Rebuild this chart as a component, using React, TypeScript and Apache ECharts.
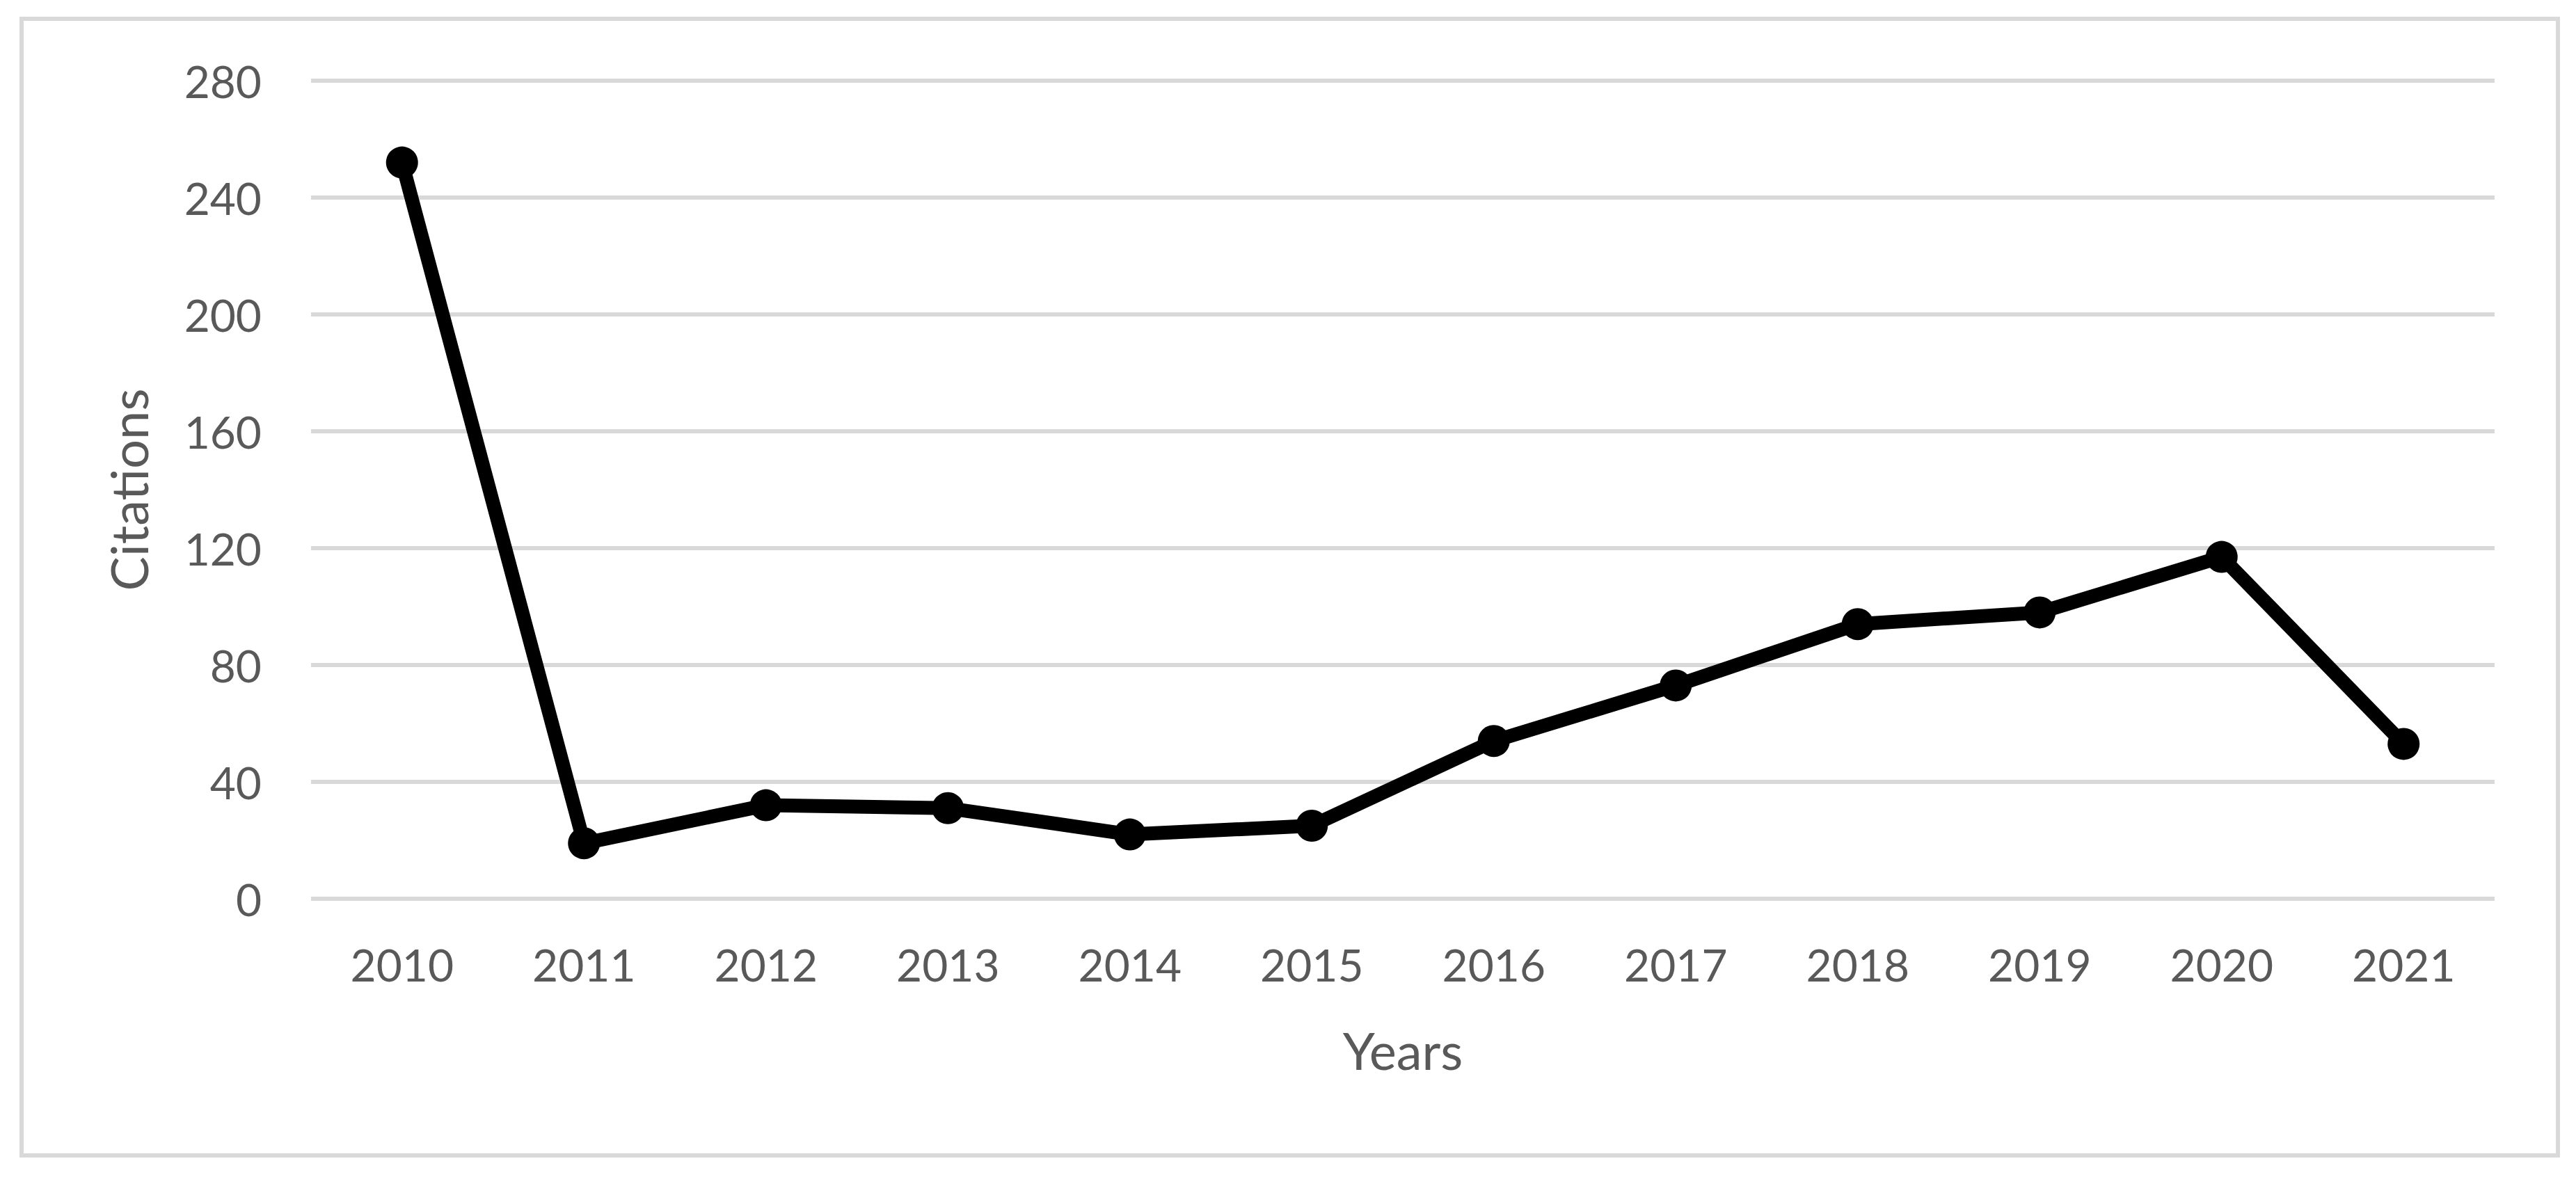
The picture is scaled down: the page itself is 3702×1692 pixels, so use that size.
import React, { useEffect, useRef } from "react";
import * as echarts from "echarts";

const years = ["2010", "2011", "2012", "2013", "2014", "2015", "2016", "2017", "2018", "2019", "2020", "2021"];
const citations = [252, 19, 32, 31, 22, 25, 54, 73, 94, 98, 117, 53];
const yTicks = { min: 0, max: 280, interval: 40 };
const xTitle = "Years";
const yTitle = "Citations";

const TEXT = "#595959";
const GRID = "#d9d9d9";
const FONT = "Lato, 'Open Sans', sans-serif";

export default function App() {
  const ref = useRef<HTMLDivElement>(null);
  useEffect(() => {
    if (!ref.current) return;
    const chart = echarts.init(ref.current, null, { renderer: "svg" });
    chart.setOption({
      animation: false,
      backgroundColor: "#ffffff",
      graphic: [
        {
          type: "rect",
          shape: { x: 31, y: 27, width: 3645, height: 1634 },
          style: { fill: "none", stroke: GRID, lineWidth: 6 },
          silent: true,
        },
      ],
      grid: { left: 447, right: 117, top: 116, bottom: 400, containLabel: false },
      xAxis: {
        type: "category",
        data: years,
        boundaryGap: true,
        name: xTitle,
        nameLocation: "middle",
        nameGap: 180,
        nameTextStyle: { fontFamily: FONT, fontSize: 74, color: TEXT, lineHeight: 74 },
        axisLine: { show: false },
        axisTick: { show: false },
        axisLabel: { fontFamily: FONT, fontSize: 64, color: TEXT, margin: 62, lineHeight: 64 },
        splitLine: { show: false },
      },
      yAxis: {
        type: "value",
        min: yTicks.min,
        max: yTicks.max,
        interval: yTicks.interval,
        name: yTitle,
        nameLocation: "middle",
        nameGap: 226,
        nameRotate: 90,
        nameTextStyle: { fontFamily: FONT, fontSize: 74, color: TEXT, lineHeight: 74 },
        axisLine: { show: false },
        axisTick: { show: false },
        axisLabel: { fontFamily: FONT, fontSize: 64, color: TEXT, margin: 71 },
        splitLine: { show: true, lineStyle: { color: GRID, width: 6 } },
      },
      series: [
        {
          type: "line",
          data: citations,
          symbol: "circle",
          symbolSize: 46,
          itemStyle: { color: "#000000" },
          lineStyle: { color: "#000000", width: 20, join: "round", cap: "round" },
          silent: true,
        },
      ],
    });
    return () => chart.dispose();
  }, []);
  return (
    <div
      ref={ref}
      style={{ position: "absolute", left: 0, top: 0, width: 3702, height: 1692, background: "#ffffff" }}
    />
  );
}
